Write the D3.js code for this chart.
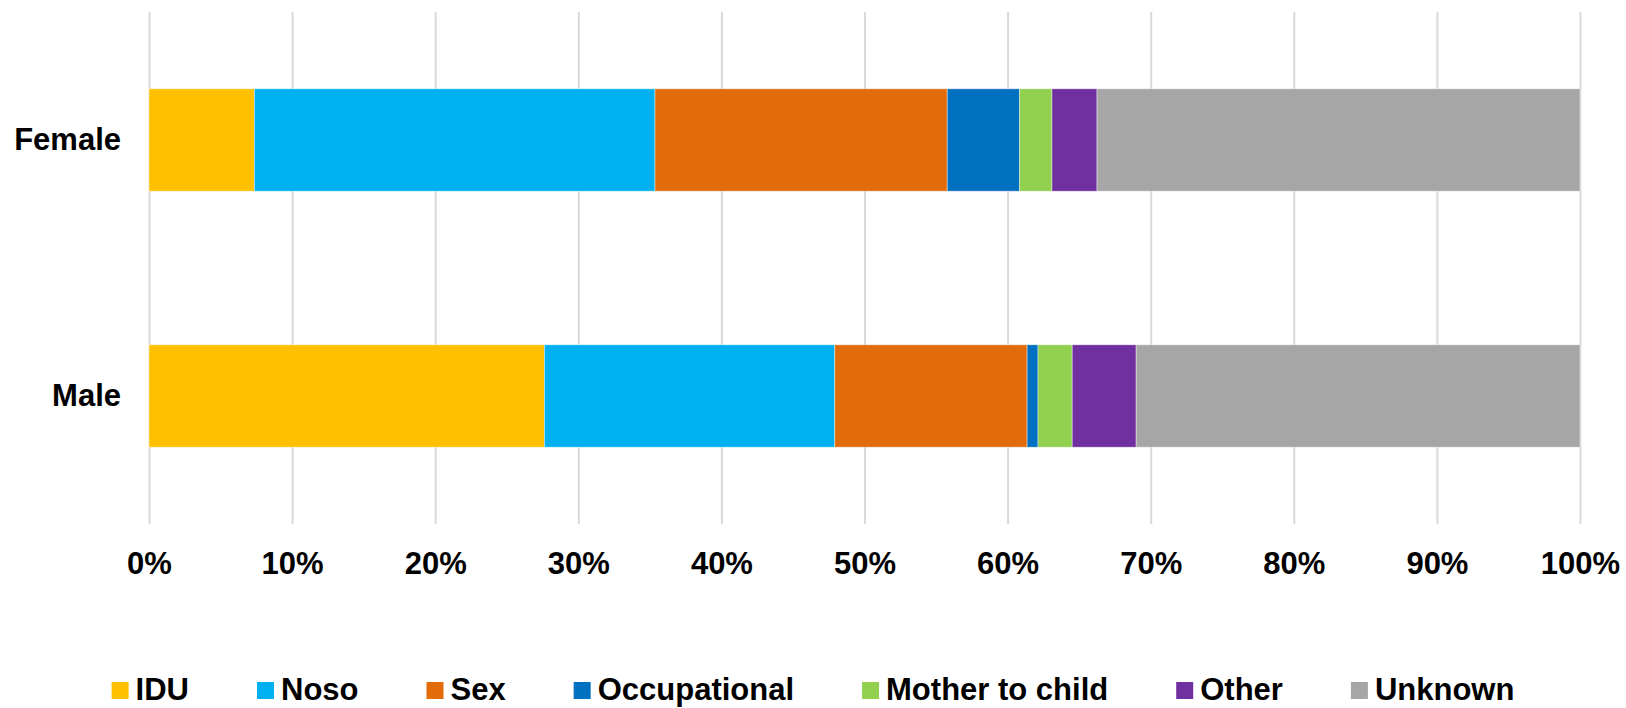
<!DOCTYPE html>
<html>
<head>
<meta charset="utf-8">
<script src="https://cdn.jsdelivr.net/npm/d3@7"></script>
<style>
  html, body { margin: 0; padding: 0; background: #fff; }
  text { font-family: "Liberation Sans", Arial, sans-serif; font-weight: bold; fill: #000; }
</style>
</head>
<body>
<div id="chart"></div>
<script>
(function(d3) {
'use strict';

var categories = ['Female', 'Male'];
var series = ['IDU', 'Noso', 'Sex', 'Occupational', 'Mother to child', 'Other', 'Unknown'];
var colors = ['#FFC000', '#00B0F0', '#E36C0A', '#0070C0', '#92D050', '#7030A0', '#A6A6A6'];
// shares in percent, one array per category, in series order
var female = [7.36, 28.0, 20.42, 5.06, 2.26, 3.15, 33.75];
var male = [27.63, 20.3, 13.44, 0.76, 2.39, 4.47, 31.02];
var tickValues = [0, 10, 20, 30, 40, 50, 60, 70, 80, 90, 100];

var width = 1626;
var height = 708;
var margin = {left:149, right:46, top:12, bottom:184};
var plotW = width - margin.left - margin.right;
var plotH = height - margin.top - margin.bottom;
var fontSize = '31px';

var rows = [female, male];
var dataset = categories.map(function(c, i) {
	var row = {label: c};
	series.forEach(function(s, j) { row[s] = rows[i][j]; });
	return row;
});

var stack = d3.stack().keys(series).offset(d3.stackOffsetExpand);
var layers = stack(dataset);

var x = d3.scaleLinear()
	.domain([0, 1])
	.range([0, plotW]);

var y = d3.scaleBand()
	.domain(categories)
	.range([0, plotH])
	.paddingInner(0.6)
	.paddingOuter(0.3);

var color = d3.scaleOrdinal()
	.domain(series)
	.range(colors);

var svg = d3.select('#chart')
	.append('svg')
	.attr('width', width)
	.attr('height', height)
	.append('g')
	.attr('transform', 'translate(' + margin.left + ',' + margin.top + ')');

// vertical gridlines
var grid = svg.append('g')
	.attr('class', 'grid')
	.attr('transform', 'translate(0,' + plotH + ')')
	.call(d3.axisBottom(x)
		.tickValues(tickValues.map(function(t) { return t / 100; }))
		.tickSize(-plotH)
		.tickFormat(''));
grid.select('.domain').remove();
grid.selectAll('line')
	.attr('stroke', '#D9D9D9')
	.attr('stroke-width', 2);

// stacked bars
svg.append('g')
	.selectAll('g')
	.data(layers)
	.enter().append('g')
	.attr('fill', function(d) { return color(d.key); })
	.selectAll('rect')
	.data(function(d) { return d; })
	.enter().append('rect')
	.attr('x', function(d) { return x(d[0]); })
	.attr('y', function(d) { return y(d.data.label); })
	.attr('width', function(d) { return x(d[1]) - x(d[0]); })
	.attr('height', y.bandwidth())
	.attr('stroke', '#fff')
	.attr('stroke-opacity', 0.6)
	.attr('stroke-width', 0.7);

// x axis labels
var xAxis = svg.append('g')
	.attr('transform', 'translate(0,' + plotH + ')')
	.call(d3.axisBottom(x)
		.tickValues(tickValues.map(function(t) { return t / 100; }))
		.tickSize(0)
		.tickFormat(function(d) { return Math.round(d * 100) + '%'; }));
xAxis.select('.domain').remove();
xAxis.selectAll('text')
	.attr('y', 50)
	.attr('dy', null)
	.style('font-family', '"Liberation Sans", Arial, sans-serif')
	.style('font-weight', 'bold')
	.style('font-size', fontSize)
	.attr('fill', '#000');

// category labels
var yAxis = svg.append('g')
	.call(d3.axisLeft(y).tickSize(0).tickPadding(28));
yAxis.select('.domain').remove();
yAxis.selectAll('text')
	.attr('dy', '0.31em')
	.style('font-family', '"Liberation Sans", Arial, sans-serif')
	.style('font-weight', 'bold')
	.style('font-size', fontSize)
	.attr('fill', '#000');

// legend
var legend = d3.select('#chart svg').append('g')
	.attr('class', 'legend');

var items = legend.selectAll('g')
	.data(series)
	.enter().append('g');

items.append('rect')
	.attr('width', 17)
	.attr('height', 17)
	.attr('y', -18)
	.attr('fill', function(d) { return color(d); });

items.append('text')
	.attr('x', 24)
	.attr('y', 0)
	.style('font-size', fontSize)
	.text(function(d) { return d; });

var gap = 68;
var pos = 0;
var offsets = [];
items.each(function(d) {
	var w = 24 + d3.select(this).select('text').node().getComputedTextLength();
	offsets.push(pos);
	pos += w + gap;
});
var total = pos - gap;
var startX = width / 2 - total / 2;
items.attr('transform', function(d, i) { return 'translate(' + (startX + offsets[i]) + ',700)'; });

})(window.d3);
</script>
</body>
</html>
